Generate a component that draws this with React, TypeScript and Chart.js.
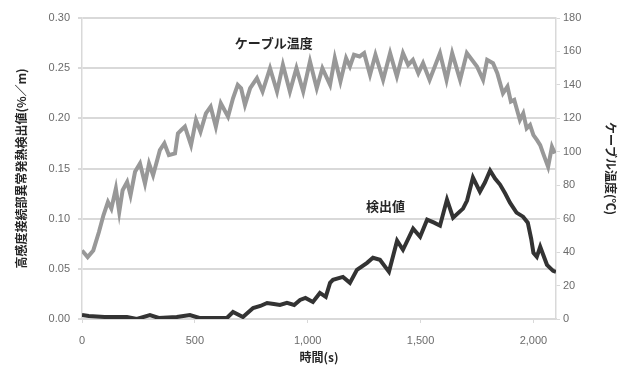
import React, { useEffect, useRef } from "react";
import { Chart, registerables } from "chart.js";

Chart.register(...registerables);

// Time axis tick values (s)
const timeTicks = [0, 500, 1000, 1500, 2000];

// Cable temperature (°C) sampled over time (s)
const tempTime = [
  0, 25, 50, 75, 95, 115, 130, 150, 165, 180, 200, 215, 235, 257, 279, 297, 315, 345, 365, 385,
  412, 425, 440, 456, 483, 505, 525, 549, 570, 593, 615, 647, 669, 690, 705, 722, 745, 775, 800,
  833, 864, 890, 921, 950, 980, 1010, 1040, 1065, 1099, 1120, 1145, 1170, 1187, 1205, 1230, 1250,
  1276, 1300, 1334, 1365, 1395, 1422, 1445, 1466, 1490, 1511, 1540, 1586, 1615, 1640, 1675, 1705,
  1750, 1777, 1795, 1821, 1840, 1865, 1885, 1900, 1915, 1940, 1955, 1970, 1985, 2000, 2016, 2030,
  2043, 2065, 2082, 2095,
];
const tempValues = [
  41, 37, 41, 52, 62, 70, 66, 78, 64, 77, 82, 74, 88, 93, 81, 93, 86, 101, 105, 98,
  99, 111, 113, 115, 104, 119, 112, 123, 127, 115, 129, 121, 132, 140, 138, 128, 138, 144, 136,
  150, 136, 152, 136, 150, 136, 154, 138, 150, 140, 156, 142, 156, 151, 158, 157, 159,
  146, 158, 143, 159, 145, 159, 152, 155, 147, 153, 143, 159, 143, 159, 143, 159,
  151, 143, 155, 153, 147, 135, 139, 130, 131, 119, 123, 114, 116, 110, 107, 104,
  99, 91, 103, 99,
];

// Detection value (%/m) sampled over time (s)
const detTime = [
  0, 30, 100, 199, 243, 301, 340, 420, 478, 520, 642, 669, 713, 758, 790, 820, 850, 877, 908, 940,
  966, 990, 1023, 1054, 1080, 1099, 1112, 1156, 1187, 1218, 1263, 1289, 1320, 1360, 1396, 1422,
  1467, 1498, 1529, 1560, 1586, 1617, 1644, 1688, 1706, 1732, 1763, 1785, 1808, 1830, 1852, 1875,
  1896, 1925, 1954, 1975, 1990, 2000, 2015, 2030, 2060, 2087, 2100,
];
const detValues = [
  0.004, 0.003, 0.002, 0.002, 0.0, 0.004, 0.001, 0.002, 0.004, 0.001, 0.001, 0.007, 0.002, 0.011,
  0.013, 0.016, 0.015, 0.014, 0.016, 0.014, 0.019, 0.021, 0.017, 0.026, 0.022, 0.036, 0.039, 0.042,
  0.036, 0.049, 0.056, 0.061, 0.059, 0.047, 0.078, 0.069, 0.09, 0.082, 0.099, 0.096, 0.093, 0.119,
  0.101, 0.11, 0.118, 0.141, 0.127, 0.136, 0.148, 0.14, 0.134, 0.125, 0.116, 0.106, 0.102, 0.096,
  0.08, 0.066, 0.062, 0.072, 0.054, 0.048, 0.047,
];

// Where the in-plot series names sit, in data units
const tempLabel = { text: "ケーブル温度", t: 850, value: 165 };
const detLabel = { text: "検出値", t: 1345, value: 0.113 };

const FONT = "'Liberation Sans', 'Noto Sans CJK JP', sans-serif";
const JP_FONT = "'Noto Sans CJK JP', 'Liberation Sans', sans-serif";
const TICK_COLOR = "#6b6b6b";
const GRID_COLOR = "#d9d9d9";

const seriesLabels = {
  id: "seriesLabels",
  afterDatasetsDraw(chart: any) {
    const { ctx, scales } = chart;
    ctx.save();
    ctx.fillStyle = "#262626";
    ctx.font = `bold 13px ${JP_FONT}`;
    ctx.textAlign = "center";
    ctx.textBaseline = "middle";
    ctx.fillText(
      tempLabel.text,
      scales.x.getPixelForValue(tempLabel.t),
      scales.yTemp.getPixelForValue(tempLabel.value)
    );
    ctx.fillText(
      detLabel.text,
      scales.x.getPixelForValue(detLabel.t),
      scales.yDet.getPixelForValue(detLabel.value)
    );
    ctx.restore();
  },
};

export default function App() {
  const canvasRef = useRef<HTMLCanvasElement | null>(null);

  useEffect(() => {
    if (!canvasRef.current) return;
    const chart = new Chart(canvasRef.current, {
      type: "line",
      data: {
        datasets: [
          {
            label: "ケーブル温度",
            data: tempTime.map((t, i) => ({ x: t, y: tempValues[i] })),
            yAxisID: "yTemp",
            borderColor: "#989898",
            borderWidth: 4,
            pointRadius: 0,
            tension: 0,
          },
          {
            label: "検出値",
            data: detTime.map((t, i) => ({ x: t, y: detValues[i] })),
            yAxisID: "yDet",
            borderColor: "#333333",
            borderWidth: 4,
            pointRadius: 0,
            tension: 0,
          },
        ],
      },
      options: {
        animation: false,
        responsive: true,
        maintainAspectRatio: false,
        layout: { padding: { top: 18, left: 0, right: 0, bottom: 0 } },
        plugins: { legend: { display: false }, tooltip: { enabled: false } },
        scales: {
          x: {
            type: "linear",
            min: 0,
            max: 2100,
            afterFit: (s: any) => {
              s.height = 50;
            },
            afterBuildTicks: (s: any) => {
              s.ticks = timeTicks.map((v) => ({ value: v }));
            },
            ticks: {
              autoSkip: false,
              maxRotation: 0,
              padding: 11,
              color: TICK_COLOR,
              font: { family: FONT, size: 11 },
              callback: (v: any) => Number(v).toLocaleString("en-US"),
            },
            grid: { drawOnChartArea: false, drawTicks: true, tickLength: 4, color: GRID_COLOR },
            border: { color: GRID_COLOR, width: 1.5 },
            title: {
              display: true,
              text: "時間(s)",
              color: "#262626",
              font: { family: JP_FONT, size: 12, weight: "bold" },
              padding: { top: 0, bottom: 4 },
            },
          },
          yDet: {
            type: "linear",
            position: "left",
            min: 0,
            max: 0.3,
            afterFit: (s: any) => {
              s.width = 82;
            },
            ticks: {
              stepSize: 0.05,
              padding: 8,
              color: TICK_COLOR,
              font: { family: FONT, size: 11 },
              callback: (v: any) => Number(v).toFixed(2),
            },
            grid: { color: GRID_COLOR, lineWidth: 2, tickLength: 4 },
            border: { color: GRID_COLOR, width: 1.5 },
            title: {
              display: true,
              text: "高感度接続部異常発熱検出値(%／m)",
              color: "#262626",
              font: { family: JP_FONT, size: 12, weight: "bold" },
              padding: { top: 14, bottom: 0 },
            },
          },
          yTemp: {
            type: "linear",
            position: "right",
            min: 0,
            max: 180,
            afterFit: (s: any) => {
              s.width = 74;
            },
            ticks: {
              stepSize: 20,
              padding: 3,
              color: TICK_COLOR,
              font: { family: FONT, size: 11 },
            },
            grid: { drawOnChartArea: false, drawTicks: true, tickLength: 4, color: GRID_COLOR },
            border: { color: GRID_COLOR, width: 1.5 },
            title: {
              display: true,
              text: "ケーブル温度(℃)",
              color: "#262626",
              font: { family: JP_FONT, size: 12, weight: "bold" },
              padding: { top: 12, bottom: 0 },
            },
          },
        },
      },
      plugins: [seriesLabels],
    });
    return () => chart.destroy();
  }, []);

  return (
    <div style={{ position: "fixed", left: 0, top: 0, width: 630, height: 369, background: "#fff" }}>
      <canvas ref={canvasRef} />
    </div>
  );
}
